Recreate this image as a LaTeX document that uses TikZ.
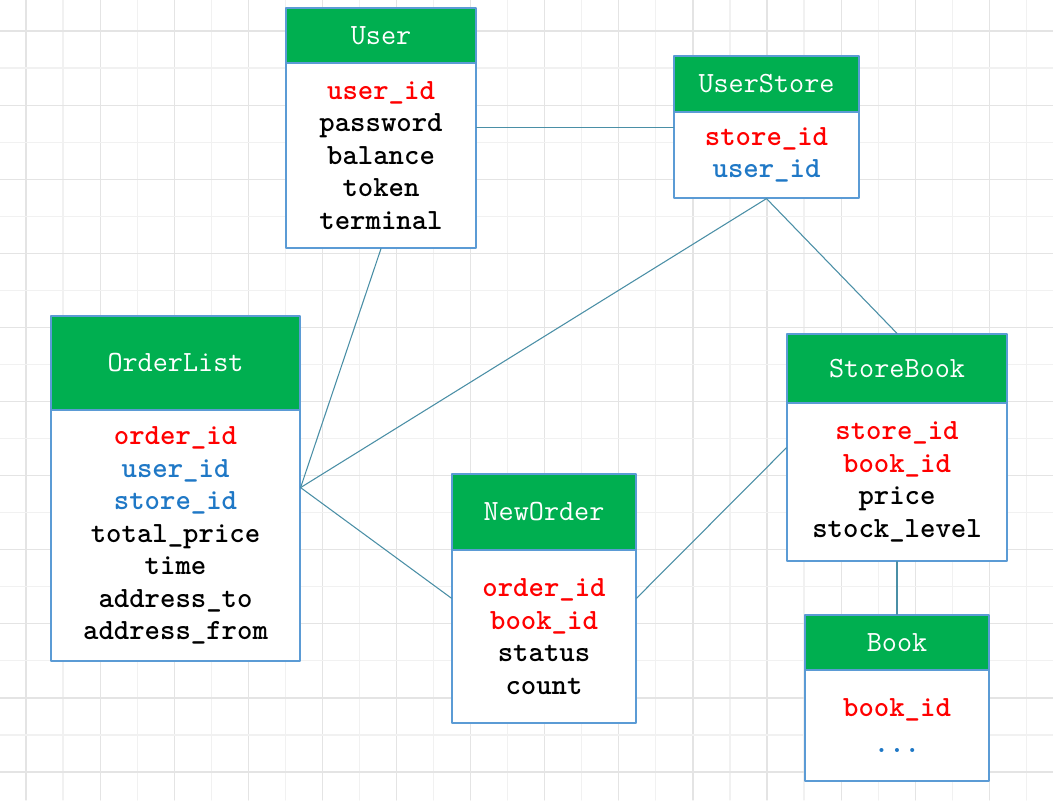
\documentclass[tikz,border=0pt]{standalone}
\usepackage{xcolor}
\usepackage{fontspec}
\usepackage{tikz}
\usetikzlibrary{calc,positioning}
\definecolor{headgreen}{HTML}{00AF50}
\definecolor{frame}{HTML}{5B9BD5}
\definecolor{link}{HTML}{4A8FA6}
\definecolor{gridmaj}{HTML}{E4E4E4}
\definecolor{gridmin}{HTML}{F1F1F1}
\definecolor{keyred}{HTML}{FF0000}
\definecolor{keyblue}{HTML}{1F78C6}
\tikzset{
  TblHead/.style={
    draw=frame, line width=0.9pt, fill=headgreen,
    text=white, inner sep=0pt,
    font=\ttfamily\fontsize{22}{24.4}\selectfont
  },
  TblBody/.style={
    draw=frame, line width=0.9pt, fill=white,
    inner sep=0pt, align=center,
    font=\ttfamily\bfseries\fontsize{22}{24.4}\selectfont
  },
  Link/.style={draw=link, line width=0.8pt}
}
\newcommand{\DbTable}[8]{%
  % #1 = node name, #2 = left, #3 = right, #4 = top
  % #5 = header bottom, #6 = bottom, #7 = title, #8 = rows
  \node[TblHead, minimum width={(#3-#2)*0.75pt}, minimum height={(#5-#4)*0.75pt}]
    (#1-head) at ({(#2+#3)/2},{(#4+#5)/2}) {#7};
  \node[TblBody, minimum width={(#3-#2)*0.75pt}, minimum height={(#6-#5)*0.75pt}]
    (#1) at ({(#2+#3)/2},{(#5+#6)/2}) {#8};
}
\newcommand{\pk}[1]{{\color{keyred}#1}}
\newcommand{\fk}[1]{{\color{keyblue}#1}}

\begin{document}
\begin{tikzpicture}[x=0.75pt, y=-0.75pt, line cap=round, line join=round]
  % canvas and grid paper
  \useasboundingbox (0,0) rectangle (1053,800);
  \fill[white] (0,0) rectangle (1053,800);
  \foreach \i in {0,...,27} {
    \pgfmathsetmacro{\gx}{26+37.05*\i}
    \ifodd\i \def\gc{gridmin}\else \def\gc{gridmaj}\fi
    \draw[\gc, line width=0.9pt] (\gx,0) -- (\gx,800);
  }
  \foreach \j in {0,...,20} {
    \pgfmathsetmacro{\gy}{31+37.05*\j}
    \ifodd\j \def\gc{gridmin}\else \def\gc{gridmaj}\fi
    \draw[\gc, line width=0.9pt] (0,\gy) -- (1053,\gy);
  }

  % tables
  \DbTable{user}{286}{476}{8}{63}{248}{User}
    {\pk{user\_id}\\password\\balance\\token\\terminal}
  \DbTable{userstore}{674}{859}{56}{112}{198}{UserStore}
    {\pk{store\_id}\\\fk{user\_id}}
  \DbTable{orderlist}{51}{300}{316}{410}{661}{OrderList}
    {\pk{order\_id}\\\fk{user\_id}\\\fk{store\_id}\\total\_price\\time\\address\_to\\address\_from}
  \DbTable{storebook}{787}{1007}{334}{403}{561}{StoreBook}
    {\pk{store\_id}\\\pk{book\_id}\\price\\stock\_level}
  \DbTable{neworder}{452}{636}{474}{550}{723}{NewOrder}
    {\pk{order\_id}\\\pk{book\_id}\\status\\count}
  \DbTable{book}{805}{989}{615}{670}{781}{Book}
    {\pk{book\_id}\\[3pt]\fk{...}}

  % attachment points
  \coordinate (uOut) at ($(user.north east)!0.35!(user.south east)$);
  \coordinate (olHub) at ($(orderlist.north east)!0.31!(orderlist.south east)$);
  \coordinate (noIn) at ($(neworder.north west)!0.28!(neworder.south west)$);
  \coordinate (noOut) at ($(neworder.north east)!0.28!(neworder.south east)$);
  \coordinate (sbIn) at ($(storebook.north west)!0.285!(storebook.south west)$);

  % relations
  \draw[Link] (uOut) -- (uOut -| userstore.west);
  \draw[Link] (user.south) -- (olHub);
  \draw[Link] (userstore.south) -- (olHub);
  \draw[Link] (userstore.south) -- (storebook-head.north);
  \draw[Link] (olHub) -- (noIn);
  \draw[Link] (noOut) -- (sbIn);
  \draw[Link] (storebook.south) -- (book-head.north);
\end{tikzpicture}
\end{document}
